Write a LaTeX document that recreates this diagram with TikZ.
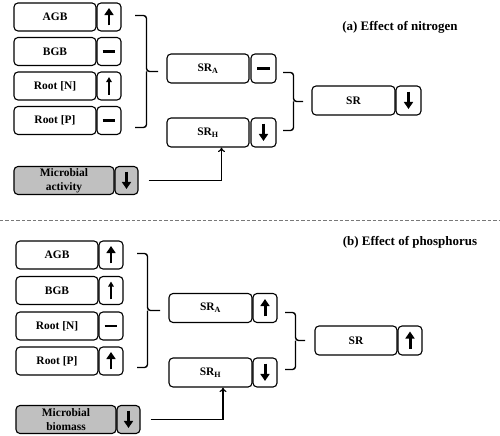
\documentclass[tikz,border=0pt]{standalone}
\usepackage{fontspec}
\setmainfont{Liberation Serif}
\usetikzlibrary{arrows.meta,calc}
\definecolor{boxgray}{RGB}{192,192,192}
\definecolor{dashgray}{RGB}{120,120,120}
\tikzset{
  box/.style={draw, rounded corners=4pt, line width=1.1pt, inner sep=0pt,
    font=\bfseries\fontsize{11.5}{14}\selectfont, align=center, minimum height=28bp},
  lbl/.style={box, minimum width=82bp},
  symb/.style={box, minimum width=24bp},
  grayb/.style={fill=boxgray},
  bracep/.style={line width=1.4pt, rounded corners=3pt},
  conn/.style={line width=1.3pt, -{To[length=4.5pt,width=7pt,line width=1.2pt]}},
  titl/.style={font=\bfseries\fontsize{13}{15}\selectfont, inner sep=0pt},
  thickup/.style={line width=3pt, -{Triangle[length=7pt,width=9pt]}},
  thinup/.style={line width=1.5pt, -{Triangle[length=5pt,width=5.5pt]}},
  dashsym/.style={line width=2.5pt},
}
\newcommand\symThickUp[1]{\draw[thickup] ([yshift=-8.5pt]#1.center) -- ([yshift=9pt]#1.center);}
\newcommand\symThickDown[1]{\draw[thickup] ([yshift=9pt]#1.center) -- ([yshift=-8.5pt]#1.center);}
\newcommand\symThinUp[1]{\draw[thinup] ([yshift=-9pt]#1.center) -- ([yshift=9pt]#1.center);}
\newcommand\symDash[1]{\draw[dashsym] ([xshift=-6.5pt]#1.center) -- ([xshift=6.5pt]#1.center);}
\begin{document}
\begin{tikzpicture}[x=1bp,y=-1bp]
\useasboundingbox (0,0) rectangle (500,436);
% ---------------- panel (a)
\node[titl] (ta) at (400,27) {(a) Effect of nitrogen};
\node[lbl] (aagb) at (55,17) {AGB};
\node[symb] (aagbs) at (109,17) {};
\node[lbl] (abgb) at (55,51.5) {BGB};
\node[symb] (abgbs) at (109,51.5) {};
\node[lbl] (arn) at (55,86) {Root [N]};
\node[symb] (arns) at (109,86) {};
\node[lbl] (arp) at (55,120.5) {Root [P]};
\node[symb] (arps) at (109,120.5) {};
\node[lbl, grayb, minimum width=100bp] (amic) at (64,180.5) {Microbial\\activity};
\node[symb, grayb, minimum width=23bp] (amics) at (126.5,180.5) {};
\node[lbl, minimum height=29bp] (asra) at (208,68.5) {SR\textsubscript{A}};
\node[symb, minimum height=29bp, minimum width=25bp] (asras) at (263.5,68.5) {};
\node[lbl, minimum height=29bp] (asrh) at (208,132.5) {SR\textsubscript{H}};
\node[symb, minimum height=29bp, minimum width=25bp] (asrhs) at (263.5,132.5) {};
\node[lbl, minimum height=29bp, minimum width=83bp] (asr) at (353.5,100.5) {SR};
\node[symb, minimum height=29bp, minimum width=25bp] (asrs) at (408.5,100.5) {};
\symThickUp{aagbs}
\symDash{abgbs}
\symThinUp{arns}
\symDash{arps}
\symThickDown{amics}
\symDash{asras}
\symThickDown{asrhs}
\symThickDown{asrs}
\draw[bracep] (135,15.5) -- (146.5,15.5) -- (146.5,71.5) -- (158,71.5);
\draw[bracep] (135,127.5) -- (146.5,127.5) -- (146.5,71.5);
\draw[bracep] (283,72.5) -- (293.5,72.5) -- (293.5,101.5) -- (303,101.5);
\draw[bracep] (283,130.5) -- (293.5,130.5) -- (293.5,101.5);
\draw[conn] ([xshift=10bp]amics.east) -| ($(asrh.south west)!0.5!(asrhs.south east)$);
% ---------------- separator
\draw[dashgray, line width=0.9pt, dash pattern=on 3.5pt off 2pt] (0,220.5) -- (500,220.5);
% ---------------- panel (b)
\node[titl] (tb) at (410,242) {(b) Effect of phosphorus};
\node[lbl] (bagb) at (57,255) {AGB};
\node[symb] (bagbs) at (111,255) {};
\node[lbl] (bbgb) at (57,290.5) {BGB};
\node[symb] (bbgbs) at (111,290.5) {};
\node[lbl] (brn) at (57,326) {Root [N]};
\node[symb] (brns) at (111,326) {};
\node[lbl] (brp) at (57,361) {Root [P]};
\node[symb] (brps) at (111,361) {};
\node[lbl, grayb, minimum width=100bp] (bmic) at (66,419.5) {Microbial\\biomass};
\node[symb, grayb, minimum width=23bp] (bmics) at (128.5,419.5) {};
\node[lbl, minimum height=29bp, minimum width=83bp] (bsra) at (210.5,308) {SR\textsubscript{A}};
\node[symb, minimum height=29bp] (bsras) at (265,308) {};
\node[lbl, minimum height=29bp, minimum width=83bp] (bsrh) at (210.5,372.5) {SR\textsubscript{H}};
\node[symb, minimum height=29bp] (bsrhs) at (265,372.5) {};
\node[lbl, minimum height=29bp] (bsr) at (356,340.5) {SR};
\node[symb, minimum height=29bp] (bsrs) at (410,340.5) {};
\symThickUp{bagbs}
\symThinUp{bbgbs}
\symDash{brns}
\symThickUp{brps}
\symThickDown{bmics}
\symThickUp{bsras}
\symThickDown{bsrhs}
\symThickUp{bsrs}
\draw[bracep] (137,253.5) -- (147.5,253.5) -- (147.5,310.5) -- (160,310.5);
\draw[bracep] (137,367.5) -- (147.5,367.5) -- (147.5,310.5);
\draw[bracep] (285,312.5) -- (295.5,312.5) -- (295.5,340.5) -- (305,340.5);
\draw[bracep] (285,369.5) -- (295.5,369.5) -- (295.5,340.5);
\draw[conn] ([xshift=10bp]bmics.east) -| ($(bsrh.south west)!0.5!(bsrhs.south east)$);
\end{tikzpicture}
\end{document}
